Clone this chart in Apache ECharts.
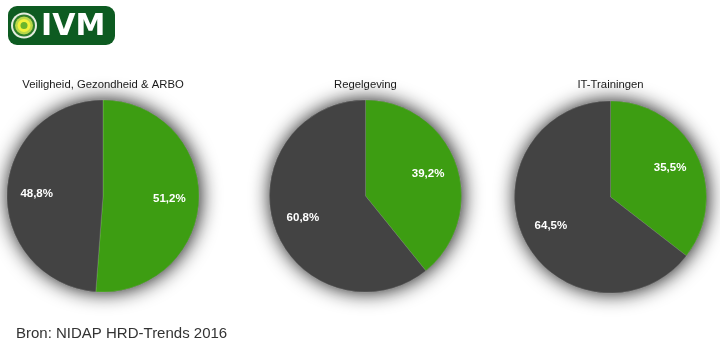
<!DOCTYPE html>
<html>
<head>
<meta charset="utf-8">
<script src="https://cdn.jsdelivr.net/npm/echarts@6/dist/echarts.min.js"></script>
<style>html,body{margin:0;padding:0;background:#fff}#c{width:720px;height:360px}</style>
</head>
<body>
<div id="c"></div>
<script>
const titles = ['Veiligheid, Gezondheid & ARBO', 'Regelgeving', 'IT-Trainingen'];
const categories = ['Ja', 'Nee'];
const greenValues = [51.2, 39.2, 35.5];
const greyValues = [48.8, 60.8, 64.5];
const sourceText = 'Bron: NIDAP HRD-Trends 2016';

const centers = [[103, 196], [365.5, 196], [610.5, 197]];
const radii = [96, 96, 96];
const GREEN = '#3d9d12';
const GREY = '#434343';
const FONT = '"Liberation Sans", Helvetica, Arial, sans-serif';

const fmt = v => v.toFixed(1).replace('.', ',') + '%';

const series = [];
titles.forEach((t, i) => {
  const data = [
    { name: categories[0], value: greenValues[i], itemStyle: { color: GREEN } },
    { name: categories[1], value: greyValues[i], itemStyle: { color: GREY } }
  ];
  // shadow disc
  series.push({
    type: 'pie', silent: true, center: centers[i], radius: [0, radii[i]],
    startAngle: 90, clockwise: true, label: { show: false }, labelLine: { show: false },
    itemStyle: { color: GREY, shadowBlur: 20, shadowColor: 'rgba(0,0,0,0.95)', shadowOffsetX: 1, shadowOffsetY: 0 },
    data: [{ name: 'bg', value: 100 }], animation: false
  });
  // main pie
  series.push({
    type: 'pie', silent: true, center: centers[i], radius: [0, radii[i]],
    startAngle: 90, clockwise: true, label: { show: false }, labelLine: { show: false },
    itemStyle: { borderColor: 'rgba(255,255,255,0.25)', borderWidth: 0.6 },
    data: data, animation: false
  });
  // labels ring
  series.push({
    type: 'pie', silent: true, center: centers[i], radius: [radii[i] * 0.32, radii[i]],
    startAngle: 90, clockwise: true,
    itemStyle: { color: 'rgba(0,0,0,0)' },
    label: { show: true, position: 'inside', color: '#fff', fontSize: 11.5, fontWeight: 'bold', fontFamily: FONT,
      formatter: p => fmt(p.value) },
    labelLine: { show: false },
    data: data.map(d => ({ name: d.name, value: d.value })), animation: false
  });
});

const option = {
  backgroundColor: '#fff',
  animation: false,
  title: titles.map((t, i) => ({
    text: t, left: centers[i][0], top: 79, textAlign: 'center', padding: 0,
    textStyle: { fontSize: 11.3, fontWeight: 'normal', color: '#1a1a1a', fontFamily: FONT }
  })),
  series: series,
  graphic: [
    { type: 'rect', left: 8, top: 6, shape: { width: 107, height: 39, r: 9 }, style: { fill: '#0d5b21' } },
    { type: 'circle', shape: { cx: 24, cy: 25.5, r: 13 }, style: { fill: '#e6ede0' } },
    { type: 'circle', shape: { cx: 24, cy: 25.5, r: 11 }, style: { fill: '#2f7d2a' } },
    { type: 'circle', shape: { cx: 24, cy: 25.5, r: 9 }, style: { fill: '#b9d84a' } },
    { type: 'circle', shape: { cx: 24, cy: 25.5, r: 6.5 }, style: { fill: '#f2f23a' } },
    { type: 'circle', shape: { cx: 24, cy: 25.5, r: 3.5 }, style: { fill: '#6ab52c' } },
    { type: 'text', left: 41, top: 12, style: { text: 'IVM', fill: '#fff', font: 'bold 30px "DejaVu Sans", sans-serif' } },
    { type: 'text', left: 16, top: 326, style: { text: sourceText, fill: '#333', font: '15px ' + FONT } }
  ]
};

const chart = echarts.init(document.getElementById('c'), null, { renderer: 'canvas' });
chart.setOption(option);
</script>
</body>
</html>
